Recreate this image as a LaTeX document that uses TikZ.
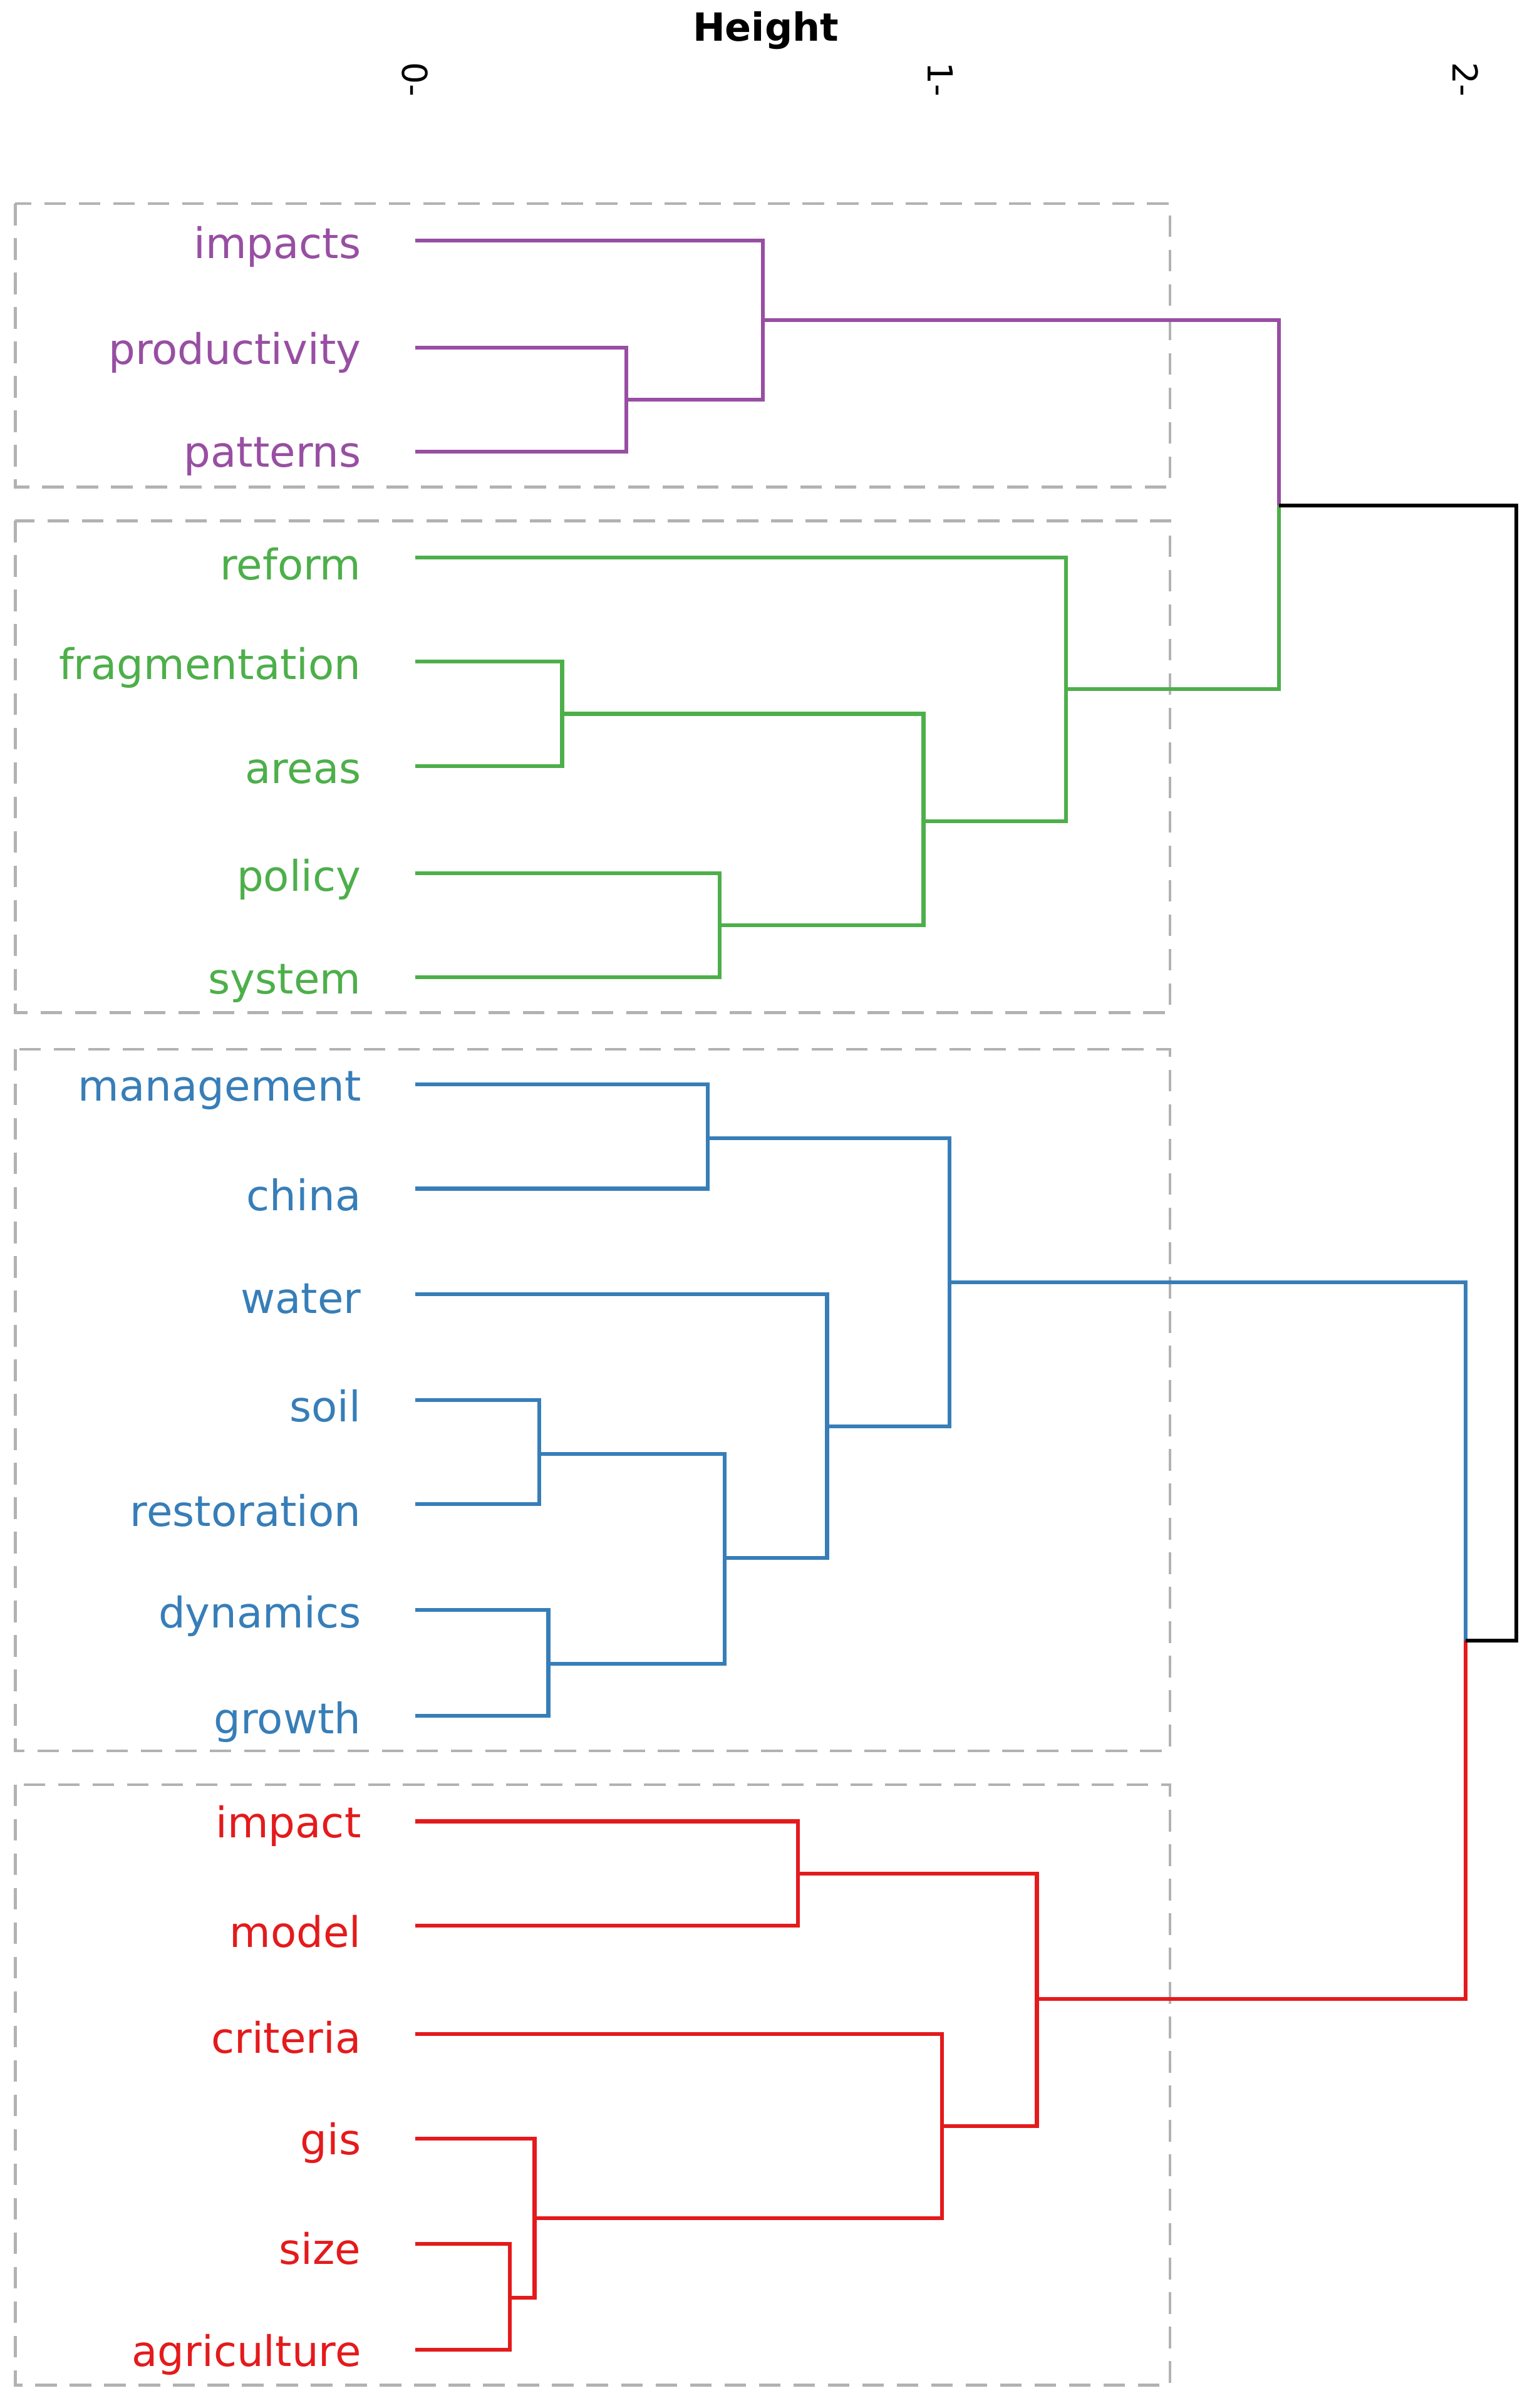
\documentclass[tikz,border=0pt]{standalone}
\usepackage{fontspec}
\setmainfont{DejaVu Sans}
\definecolor{cpu}{HTML}{984EA3}
\definecolor{cgr}{HTML}{4DAF4A}
\definecolor{cbl}{HTML}{377EB8}
\definecolor{cre}{HTML}{E41A1C}
\begin{document}
\begin{tikzpicture}[x=0.025cm,y=-0.025cm,
  lbl/.style={anchor=east,font=\fontsize{19.6}{22}\selectfont,inner sep=0pt},
  ln/.style={line width=1.8pt},
  box/.style={draw=gray!60,dashed,line width=1.3pt,dash pattern=on 10pt off 6pt}]
\useasboundingbox (0,0) rectangle (1000,1572);
\node[font=\bfseries\fontsize{18}{20}\selectfont] at (500,20) {Height};
\foreach \x/\t in {271/0,614/1,957/2}
  \node[rotate=-90,font=\fontsize{16}{18}\selectfont] at (\x,52) {\t-};
\draw[box] (10,133) rectangle (764,318);
\draw[box] (10,340) rectangle (764,661);
\draw[box] (10,685) rectangle (764,1143);
\draw[box] (10,1165) rectangle (764,1557);
% labels
\foreach \t/\y in {impacts/161,productivity/230,patterns/298}
  \node[lbl,text=cpu] at (236,\y) {\t};
\foreach \t/\y in {reform/368,fragmentation/436,areas/504,policy/574,system/642}
  \node[lbl,text=cgr] at (236,\y) {\t};
\foreach \t/\y in {management/712,china/780,water/848,soil/918,restoration/986,dynamics/1055,growth/1124}
  \node[lbl,text=cbl] at (236,\y) {\t};
\foreach \t/\y in {impact/1192,model/1261,criteria/1330,gis/1399,size/1468,agriculture/1537}
  \node[lbl,text=cre] at (236,\y) {\t};
% purple
\draw[ln,cpu] (271,227)--(409,227)--(409,295)--(271,295);
\draw[ln,cpu] (271,157)--(498,157)--(498,261)--(409,261);
\draw[ln,cpu] (498,209)--(835,209)--(835,330);
% green
\draw[ln,cgr] (271,432)--(367,432)--(367,500)--(271,500);
\draw[ln,cgr] (271,570)--(470,570)--(470,638)--(271,638);
\draw[ln,cgr] (367,466)--(603,466)--(603,604)--(470,604);
\draw[ln,cgr] (271,364)--(696,364)--(696,536)--(603,536);
\draw[ln,cgr] (696,450)--(835,450)--(835,330);
% blue
\draw[ln,cbl] (271,708)--(462,708)--(462,776)--(271,776);
\draw[ln,cbl] (271,914)--(352,914)--(352,982)--(271,982);
\draw[ln,cbl] (271,1051)--(358,1051)--(358,1120)--(271,1120);
\draw[ln,cbl] (352,949)--(473,949)--(473,1086)--(358,1086);
\draw[ln,cbl] (271,845)--(540,845)--(540,1017)--(473,1017);
\draw[ln,cbl] (462,743)--(620,743)--(620,931)--(540,931);
\draw[ln,cbl] (620,837)--(957,837)--(957,1071);
% red
\draw[ln,cre] (271,1189)--(521,1189)--(521,1257)--(271,1257);
\draw[ln,cre] (271,1465)--(333,1465)--(333,1534)--(271,1534);
\draw[ln,cre] (271,1396)--(349,1396)--(349,1500)--(333,1500);
\draw[ln,cre] (271,1328)--(615,1328)--(615,1448)--(349,1448);
\draw[ln,cre] (521,1223)--(677,1223)--(677,1388)--(615,1388);
\draw[ln,cre] (677,1305)--(957,1305)--(957,1071);
% black
\draw[ln,black] (957,1071)--(990,1071)--(990,330)--(835,330);
\end{tikzpicture}
\end{document}
